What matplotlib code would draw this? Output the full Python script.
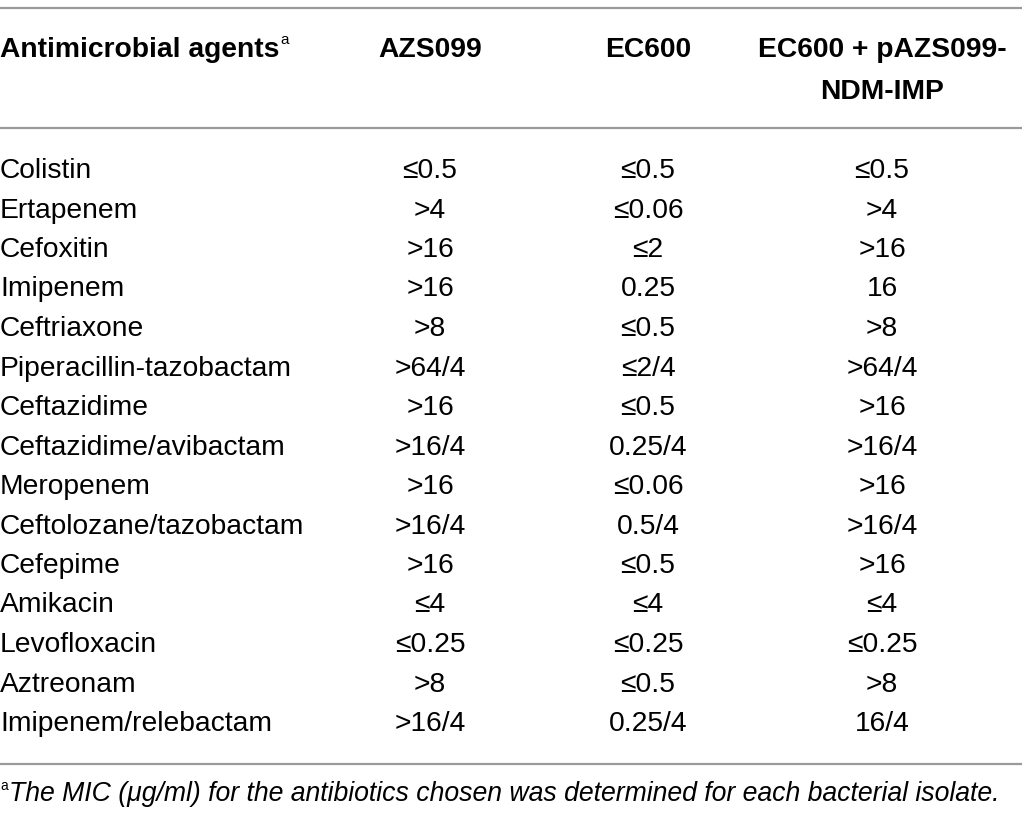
import matplotlib
matplotlib.use("Agg")
import matplotlib.pyplot as plt
from matplotlib.lines import Line2D

# table content
columns = ["AZS099", "EC600", "EC600 + pAZS099-\nNDM-IMP"]
agents = ["Colistin", "Ertapenem", "Cefoxitin", "Imipenem", "Ceftriaxone",
          "Piperacillin-tazobactam", "Ceftazidime", "Ceftazidime/avibactam",
          "Meropenem", "Ceftolozane/tazobactam", "Cefepime", "Amikacin",
          "Levofloxacin", "Aztreonam", "Imipenem/relebactam"]
azs099 = ["≤0.5", ">4", ">16", ">16", ">8", ">64/4", ">16", ">16/4", ">16",
          ">16/4", ">16", "≤4", "≤0.25", ">8", ">16/4"]
ec600 = ["≤0.5", "≤0.06", "≤2", "0.25", "≤0.5", "≤2/4", "≤0.5", "0.25/4",
         "≤0.06", "0.5/4", "≤0.5", "≤4", "≤0.25", "≤0.5", "0.25/4"]
transconj = ["≤0.5", ">4", ">16", "16", ">8", ">64/4", ">16", ">16/4", ">16",
             ">16/4", ">16", "≤4", "≤0.25", ">8", "16/4"]
footnote = "The MIC (μg/ml) for the antibiotics chosen was determined for each bacterial isolate."

W, H = 1022, 822
fig = plt.figure(figsize=(W / 100, H / 100), dpi=100)
fig.patch.set_facecolor("white")
plt.rcParams['font.family'] = ['Liberation Sans', 'DejaVu Sans']

def px(x, y):
    return x / W, 1 - y / H

fs = 20.3
col_x = [430, 648, 882]

# rules
for y in [8, 128, 764]:
    fig.add_artist(Line2D([0, 1], [1 - y / H] * 2, color="#9a9a9a", lw=1.6))

# header
t = fig.text(*px(0, 50), "Antimicrobial agents", fontsize=fs, fontweight="bold",
             ha="left", va="center")
fig.canvas.draw()
bb = t.get_window_extent()
fig.text(bb.x1 / W + 0.001, px(0, 40)[1], "a", fontsize=11, ha="left", va="center")
fig.text(*px(col_x[0], 50), columns[0], fontsize=fs, fontweight="bold", ha="center", va="center")
fig.text(*px(col_x[1], 50), columns[1], fontsize=fs, fontweight="bold", ha="center", va="center")
fig.text(*px(col_x[2], 50), "EC600 + pAZS099-", fontsize=fs, fontweight="bold", ha="center", va="center")
fig.text(*px(col_x[2], 92), "NDM-IMP", fontsize=fs, fontweight="bold", ha="center", va="center")

# body
y0, dy = 171, 39.5
for i, name in enumerate(agents):
    y = y0 + i * dy
    fig.text(*px(0, y), name, fontsize=fs, ha="left", va="center")
    for cx, vals in zip(col_x, [azs099, ec600, transconj]):
        fig.text(*px(cx, y), vals[i], fontsize=fs, ha="center", va="center")

# footnote
fig.text(*px(0, 786), "a", fontsize=10, ha="left", va="center")
fig.text(*px(9, 794), footnote, fontsize=19.2, style="italic", ha="left", va="center")

fig.savefig("out.png", dpi=100)
